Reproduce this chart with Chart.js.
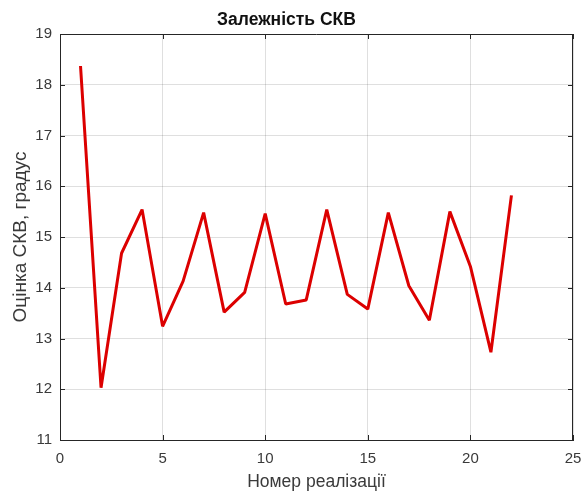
<!DOCTYPE html>
<html>
<head>
<meta charset="utf-8">
<script src="https://cdn.jsdelivr.net/npm/chart.js@4/dist/chart.umd.min.js"></script>
<style>
  html, body { margin: 0; padding: 0; background: #fff; }
  #wrap { width: 582px; height: 493px; }
</style>
</head>
<body>
<div id="wrap"><canvas id="chart"></canvas></div>
<script>
// номер реалізації та оцінка СКВ
const realizations = [1, 2, 3, 4, 5, 6, 7, 8, 9, 10, 11, 12, 13, 14, 15, 16, 17, 18, 19, 20, 21, 22];
const skvValues = [18.37, 12.03, 14.68, 15.54, 13.24, 14.13, 15.48, 13.52, 13.91, 15.46, 13.68,
                   13.76, 15.54, 13.87, 13.58, 15.48, 14.04, 13.36, 15.50, 14.42, 12.73, 15.82];
const xTicks = [0, 5, 10, 15, 20, 25];
const yTicks = [11, 12, 13, 14, 15, 16, 17, 18, 19];

const axisColor = '#262626';
const textColor = '#3a3a3a';
const gridColor = 'rgba(38,38,38,0.15)';
const fontFamily = 'Arial, "Liberation Sans", Helvetica, sans-serif';

// рамка навколо області графіка з рисками всередину (як box on)
const boxTicks = {
  id: 'boxTicks',
  afterDraw(chart) {
    const {ctx, chartArea: a, scales: {x, y}} = chart;
    const len = 5;
    ctx.save();
    ctx.strokeStyle = axisColor;
    ctx.lineWidth = 1;
    ctx.beginPath();
    ctx.moveTo(a.left, a.top + 0.5);
    ctx.lineTo(a.right, a.top + 0.5);
    ctx.moveTo(a.right - 0.5, a.top);
    ctx.lineTo(a.right - 0.5, a.bottom);
    xTicks.forEach(v => {
      const px = Math.round(x.getPixelForValue(v)) + 0.5;
      ctx.moveTo(px, a.bottom);
      ctx.lineTo(px, a.bottom - len);
      ctx.moveTo(px, a.top);
      ctx.lineTo(px, a.top + len);
    });
    yTicks.forEach(v => {
      const py = Math.round(y.getPixelForValue(v)) + 0.5;
      ctx.moveTo(a.left, py);
      ctx.lineTo(a.left + len, py);
      ctx.moveTo(a.right, py);
      ctx.lineTo(a.right - len, py);
    });
    ctx.stroke();
    ctx.restore();
  }
};

new Chart(document.getElementById('chart'), {
  type: 'line',
  data: {
    datasets: [{
      data: realizations.map((r, i) => ({x: r, y: skvValues[i]})),
      borderColor: '#dc0000',
      borderWidth: 3,
      borderJoinStyle: 'bevel',
      pointRadius: 0,
      tension: 0,
      fill: false
    }]
  },
  options: {
    responsive: true,
    maintainAspectRatio: false,
    animation: false,
    layout: { padding: { left: 0, right: 9, top: 0, bottom: 0 } },
    plugins: {
      legend: { display: false },
      tooltip: { enabled: false },
      title: {
        display: true,
        text: 'Залежність СКВ',
        color: '#111',
        font: { family: fontFamily, size: 17.5, weight: 'bold' },
        padding: { top: 10, bottom: 3 }
      }
    },
    scales: {
      x: {
        type: 'linear',
        min: 0,
        max: 25,
        afterBuildTicks: s => { s.ticks = xTicks.map(v => ({value: v})); },
        afterFit: s => { s.height = 53; s.paddingLeft = 0; s.paddingRight = 0; },
        grid: { color: gridColor, drawTicks: false },
        border: { color: axisColor, width: 1 },
        ticks: { color: textColor, padding: 10, font: { family: fontFamily, size: 15 } },
        title: {
          display: true,
          text: 'Номер реалізації',
          color: textColor,
          font: { family: fontFamily, size: 17.5 },
          padding: { top: 0, bottom: 0 }
        }
      },
      y: {
        min: 11,
        max: 19,
        afterBuildTicks: s => { s.ticks = yTicks.map(v => ({value: v})); },
        afterFit: s => { s.width = 60; },
        grid: { color: gridColor, drawTicks: false },
        border: { color: axisColor, width: 1 },
        ticks: { color: textColor, padding: 8, font: { family: fontFamily, size: 15 } },
        title: {
          display: true,
          text: 'Оцінка СКВ, градус',
          color: textColor,
          font: { family: fontFamily, size: 19 },
          padding: { top: 9, bottom: 0 }
        }
      }
    }
  },
  plugins: [boxTicks]
});
</script>
</body>
</html>
